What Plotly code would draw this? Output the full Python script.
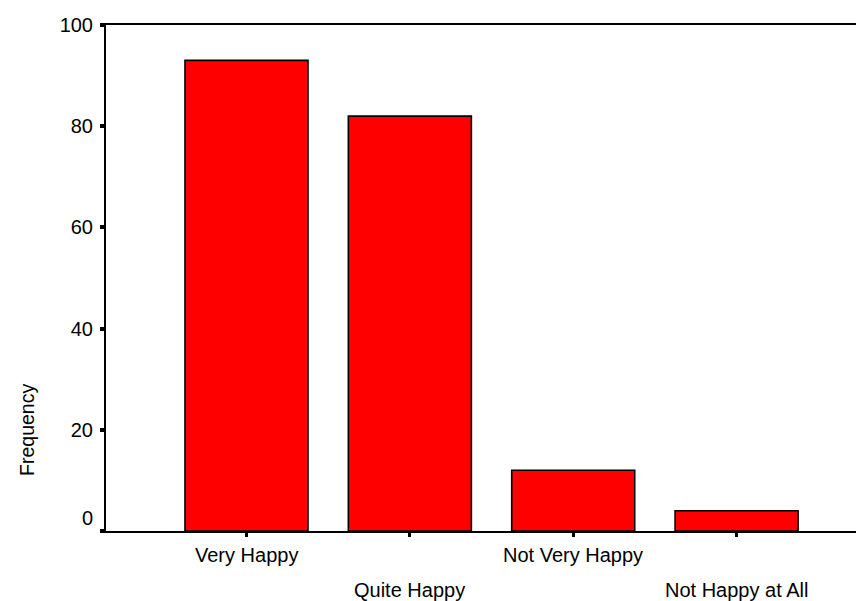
import plotly.graph_objects as go

categories = ["Very Happy", "Quite Happy", "Not Very Happy", "Not Happy at All"]
frequency = [93, 82, 12, 4]
y_ticks = [0, 20, 40, 60, 80, 100]
y_title = "Frequency"

FONT = "Liberation Sans, Arial, sans-serif"

# page body has an 8px default margin; compensate so the plot lands where the reference has it
W, H = 856, 593

fig = go.Figure()
fig.add_trace(go.Bar(
    x=categories, y=frequency, width=0.753,
    marker=dict(color="#ff0000", line=dict(color="black", width=1.6)),
))

ticktext = [("%d<br>&nbsp;" % v) if v == 0 else str(v) for v in y_ticks]

annotations = []
for i, c in enumerate(categories):
    annotations.append(dict(
        x=c, xref="x", y=0, yref="paper", text=c, showarrow=False,
        xanchor="center", yanchor="top", yshift=-11 if i % 2 == 0 else -46,
        font=dict(family=FONT, size=20, color="black"),
    ))
annotations.append(dict(
    x=-0.104, xref="paper", y=0.2, yref="paper", text=y_title, showarrow=False,
    textangle=-90, xanchor="center", yanchor="middle",
    font=dict(family=FONT, size=19.5, color="black"),
))

fig.update_layout(
    width=W, height=H,
    margin=dict(l=98, r=0, t=17, b=70),
    paper_bgcolor="white", plot_bgcolor="white",
    showlegend=False,
    font=dict(family=FONT, size=20, color="black"),
    xaxis=dict(
        range=[-0.86, 3.78], showgrid=False, zeroline=False,
        showline=True, linecolor="black", linewidth=2, mirror=True,
        ticks="outside", ticklen=4, tickwidth=3, tickcolor="black",
        showticklabels=False,
    ),
    yaxis=dict(
        range=[0, 100], showgrid=False, zeroline=False,
        showline=True, linecolor="black", linewidth=2,
        tickvals=y_ticks, ticktext=ticktext, ticklabelstandoff=3,
        ticks="outside", ticklen=4, tickwidth=4, tickcolor="black",
    ),
    annotations=annotations,
)

fig.write_html("out.html")
